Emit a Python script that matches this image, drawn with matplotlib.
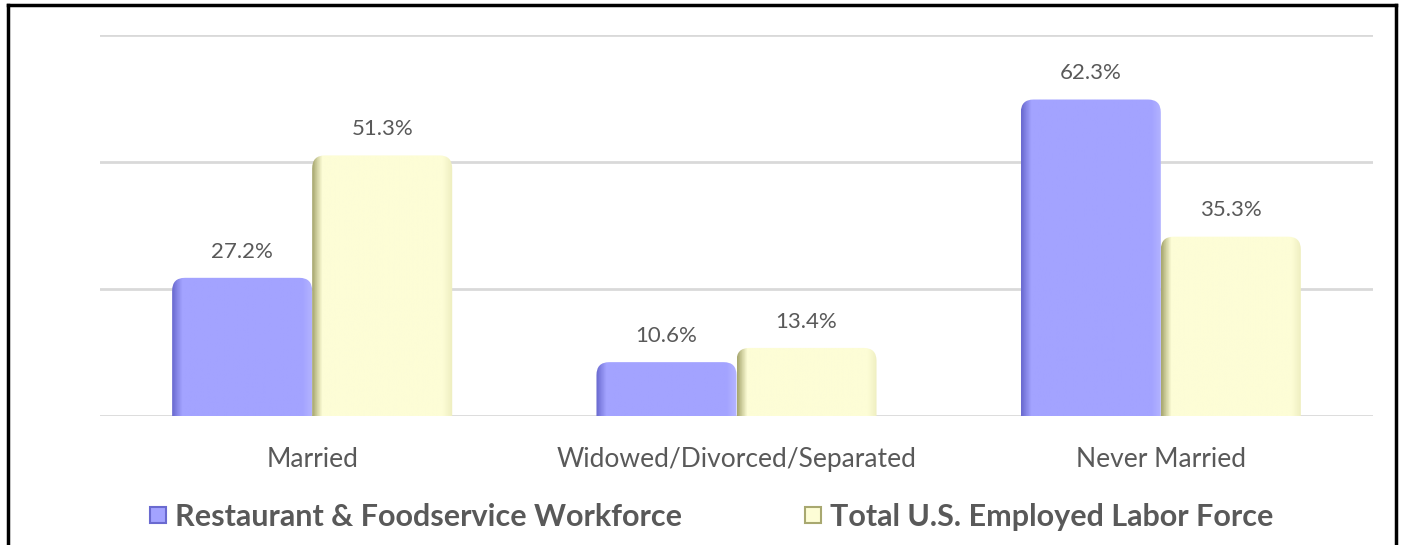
import numpy as np
import matplotlib.pyplot as plt
from matplotlib.patches import FancyBboxPatch
from matplotlib.lines import Line2D
from matplotlib.colors import LinearSegmentedColormap

categories = ["Married", "Widowed/Divorced/Separated", "Never Married"]
restaurant = [27.2, 10.6, 62.3]
total_us = [51.3, 13.4, 35.3]
series_names = ["Restaurant & Foodservice Workforce", "Total U.S. Employed Labor Force"]

plt.rcParams["font.family"] = ["Lato", "DejaVu Sans"]

BLUE = ("#6a6ad0", "#a3a3ff", "#b4b4ff")
YELLOW = ("#a8a870", "#fdfdd6", "#eeeec0")
TEXT = "#595959"

fig = plt.figure(figsize=(14.03, 5.45), dpi=100)
ax = fig.add_axes([100 / 1403, 129 / 545, 1273 / 1403, 381 / 545])

x = np.arange(len(categories))
width = 0.33


def draw_bars(xpos, values, colors):
    cmap = LinearSegmentedColormap.from_list(
        "bevel", [(0, colors[0]), (0.07, colors[1]), (0.93, colors[1]), (1, colors[2])])
    grad = np.linspace(0, 1, 200).reshape(1, -1)
    for xc, v in zip(xpos, values):
        left = xc - width / 2
        patch = FancyBboxPatch((left, -5), width, v + 5,
                               boxstyle="round,pad=0,rounding_size=0.03",
                               mutation_aspect=85, facecolor="none",
                               edgecolor="none", zorder=3)
        ax.add_patch(patch)
        im = ax.imshow(grad, extent=(left, left + width, -5, v), aspect="auto",
                       cmap=cmap, zorder=3, interpolation="bilinear")
        im.set_clip_path(patch)
        ax.text(xc, v + 3.2, f"{v:.1f}%", ha="center", va="bottom",
                fontsize=16, color=TEXT, zorder=4)


draw_bars(x - width / 2, restaurant, BLUE)
draw_bars(x + width / 2, total_us, YELLOW)

ax.set_xlim(-0.5, 2.5)
ax.set_ylim(0, 75)
ax.set_yticks([0, 25, 50, 75])
ax.yaxis.grid(True, color="#d9d9d9", linewidth=2)
ax.set_axisbelow(True)
ax.tick_params(axis="y", left=False, labelleft=False)
ax.set_xticks(x)
ax.set_xticklabels(categories, fontsize=19, color=TEXT)
ax.tick_params(axis="x", length=0, pad=22)
for s in ax.spines.values():
    s.set_visible(False)

handles = [Line2D([], [], marker="s", linestyle="none", markersize=11,
                  markerfacecolor=BLUE[1], markeredgecolor=BLUE[0], markeredgewidth=1.5),
           Line2D([], [], marker="s", linestyle="none", markersize=11,
                  markerfacecolor=YELLOW[1], markeredgecolor=YELLOW[0], markeredgewidth=1.5)]
leg = fig.legend(handles, series_names, loc="center", bbox_to_anchor=(711 / 1403, 1 - 517 / 545),
                 ncol=2, frameon=False, handlelength=0.6, handletextpad=0.25, columnspacing=4.0,
                 prop={"size": 22, "weight": "bold"})
for t in leg.get_texts():
    t.set_color(TEXT)

# outer frame (no bottom edge visible)
fig.add_artist(Line2D([8 / 1403, 8 / 1403], [0, 1 - 5 / 545], color="black", linewidth=2.5,
                      transform=fig.transFigure))
fig.add_artist(Line2D([8 / 1403, 1396 / 1403], [1 - 5 / 545, 1 - 5 / 545], color="black",
                      linewidth=2.5, transform=fig.transFigure))
fig.add_artist(Line2D([1396 / 1403, 1396 / 1403], [0, 1 - 5 / 545], color="black", linewidth=2.5,
                      transform=fig.transFigure))

fig.savefig("out.png", dpi=100)
